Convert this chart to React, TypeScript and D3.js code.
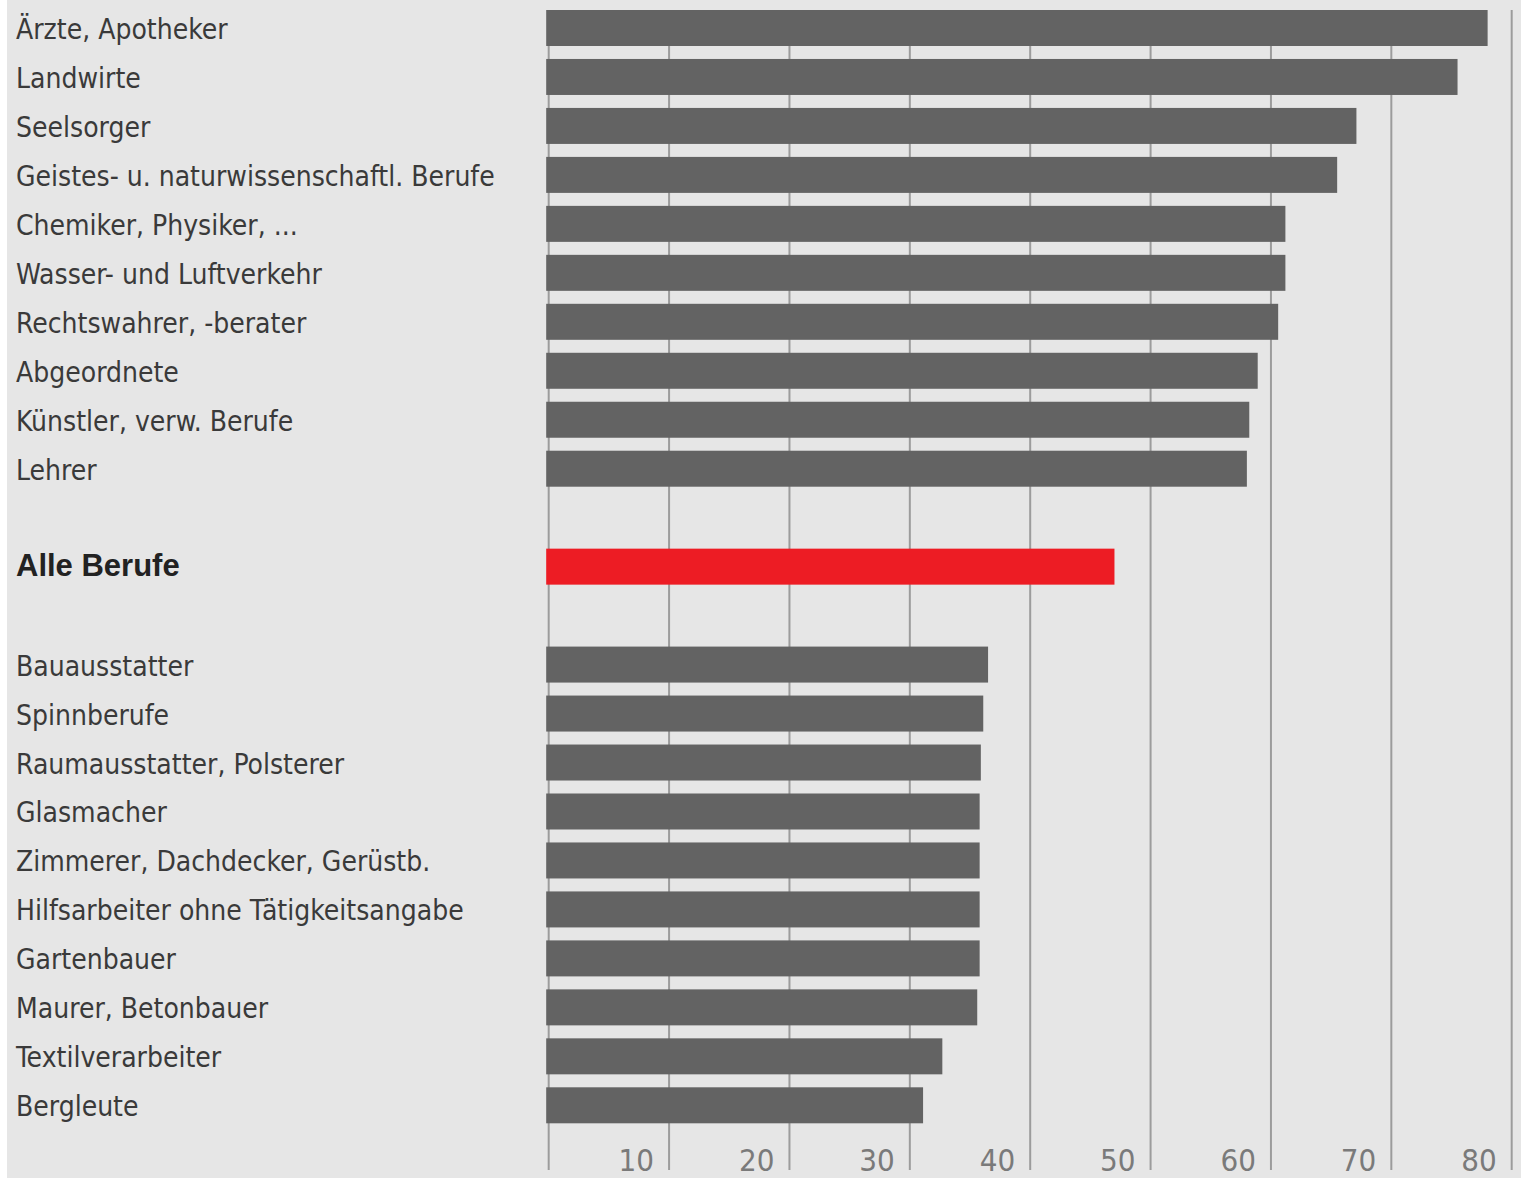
import React from 'react'
import * as d3 from 'd3'

// Anteil in %
const topCategories = [
  'Ärzte, Apotheker',
  'Landwirte',
  'Seelsorger',
  'Geistes- u. naturwissenschaftl. Berufe',
  'Chemiker, Physiker, ...',
  'Wasser- und Luftverkehr',
  'Rechtswahrer, -berater',
  'Abgeordnete',
  'Künstler, verw. Berufe',
  'Lehrer'
]
const topValues = [78.0, 75.5, 67.1, 65.5, 61.2, 61.2, 60.6, 58.9, 58.2, 58.0]

const totalLabel = 'Alle Berufe'
const totalValue = 47.0

const bottomCategories = [
  'Bauausstatter',
  'Spinnberufe',
  'Raumausstatter, Polsterer',
  'Glasmacher',
  'Zimmerer, Dachdecker, Gerüstb.',
  'Hilfsarbeiter ohne Tätigkeitsangabe',
  'Gartenbauer',
  'Maurer, Betonbauer',
  'Textilverarbeiter',
  'Bergleute'
]
const bottomValues = [36.5, 36.1, 35.9, 35.8, 35.8, 35.8, 35.8, 35.6, 32.7, 31.1]

const ticks = [0, 10, 20, 30, 40, 50, 60, 70, 80]

const WIDTH = 1521
const HEIGHT = 1179
const narrow = '"Liberation Sans Narrow", "DejaVu Sans Condensed", "Liberation Sans", sans-serif'

type Row = { key: string; label: string | null; value: number | null; total?: boolean }

const rows: Row[] = [
  ...topCategories.map((c, i) => ({ key: c, label: c, value: topValues[i] })),
  { key: 'gap1', label: null, value: null },
  { key: totalLabel, label: totalLabel, value: totalValue, total: true },
  { key: 'gap2', label: null, value: null },
  ...bottomCategories.map((c, i) => ({ key: c, label: c, value: bottomValues[i] }))
]

const App: React.FC = () => {
  const x = d3.scaleLinear().domain([0, 80]).range([548.7, 1511.7])
  const y = d3
    .scaleBand<string>()
    .domain(rows.map((r) => r.key))
    .range([10, 1123.3])
    .paddingInner(0.265)
    .paddingOuter(0)

  const barLeft = x(0) - 2.5

  return (
    <svg
      width={WIDTH}
      height={HEIGHT}
      style={{ position: 'absolute', left: 0, top: 0, display: 'block', background: '#fff' }}
    >
      <rect x={7} y={0} width={WIDTH - 7} height={1178} fill="#e6e6e6" />

      {/* gridlines */}
      <g>
        {ticks.map((t) => (
          <line
            key={t}
            x1={x(t)}
            x2={x(t)}
            y1={10}
            y2={1170}
            stroke="#9c9c9c"
            strokeWidth={2}
          />
        ))}
      </g>

      {/* bars */}
      <g>
        {rows
          .filter((r) => r.value !== null)
          .map((r) => (
            <rect
              key={r.key}
              x={barLeft}
              y={y(r.key)}
              width={x(r.value as number) - barLeft}
              height={y.bandwidth()}
              fill={r.total ? '#ed1c24' : '#636363'}
            />
          ))}
      </g>

      {/* category labels */}
      <g>
        {rows
          .filter((r) => r.label !== null)
          .map((r) => {
            const cy = (y(r.key) as number) + y.bandwidth() / 2
            return r.total ? (
              <text
                key={r.key}
                x={16}
                y={cy + 9}
                fontFamily='"Liberation Sans", Arial, sans-serif'
                fontWeight="bold"
                fontSize={31}
                fill="#222"
              >
                {r.label}
              </text>
            ) : (
              <text
                key={r.key}
                x={16}
                y={cy + 11}
                fontFamily={narrow}
                fontSize={28}
                fill="#3a3a3a"
              >
                {r.label}
              </text>
            )
          })}
      </g>

      {/* tick labels */}
      <g>
        {ticks
          .filter((t) => t > 0)
          .map((t) => (
            <text
              key={t}
              x={x(t) - 15}
              y={1171}
              textAnchor="end"
              fontFamily={narrow}
              fontSize={31}
              fill="#7a7a7a"
            >
              {t}
            </text>
          ))}
      </g>
    </svg>
  )
}

export default App
